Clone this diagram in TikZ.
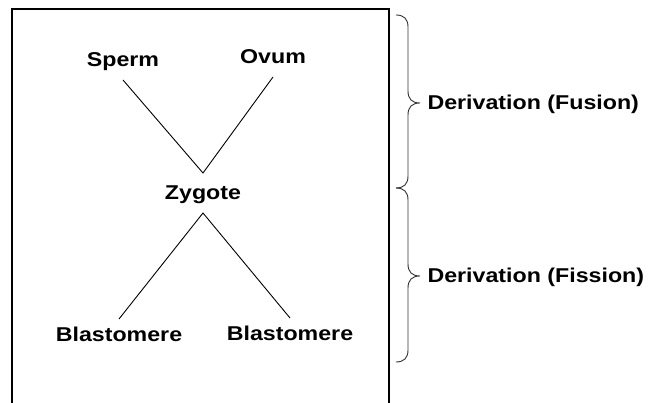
\documentclass[tikz,border=0pt]{standalone}
\usepackage{fontspec}
\setmainfont{Liberation Sans}
\begin{document}
\begin{tikzpicture}[x=1pt,y=-1pt,
    lbl/.style={font=\fontsize{20}{24}\selectfont\bfseries, text height=14pt, text depth=4pt,
                inner sep=2pt, outer ysep=7pt, xscale=1.16, transform shape},
    stem/.style={line width=0.9pt},
    curly/.style={line width=0.9pt, color=black!80}]
        \clip (0,0) rectangle (654,403);
        \fill[white] (0,0) rectangle (654,403);
        \draw[line width=2.2pt] (12,9) rectangle (389,440);
        % cells
        \node[lbl] (sperm) at (123,62) {Sperm};
        \node[lbl] (ovum) at (273,59) {Ovum};
        \node[lbl] (zygote) at (203,195) {Zygote};
        \node[lbl] (blastL) at (119,337) {Blastomere};
        \node[lbl] (blastR) at (290,336) {Blastomere};
        \coordinate (meet) at (203,173);
        \coordinate (split) at (203,213);
        \draw[stem] (sperm.south) -- (meet) -- (ovum.south);
        \draw[stem] (blastL.north) -- (split) -- (blastR.north);
        % braces
        \draw[curly] (396,15) .. controls (404,15) and (408,19) .. (408,27) -- (408,91)
            .. controls (408,99) and (412,103) .. (420,103)
            .. controls (412,103) and (408,107) .. (408,115) -- (408,176)
            .. controls (408,184) and (404,188) .. (396,188);
        \draw[curly] (396,188) .. controls (404,188) and (408,192) .. (408,200) -- (408,264)
            .. controls (408,272) and (412,276) .. (420,276)
            .. controls (412,276) and (408,280) .. (408,288) -- (408,350)
            .. controls (408,358) and (404,362) .. (396,362);
        \node[lbl, anchor=west] (fusion) at (425,105) {Derivation (Fusion)};
        \node[lbl, anchor=west] (fission) at (425,278) {Derivation (Fission)};
\end{tikzpicture}
\end{document}
